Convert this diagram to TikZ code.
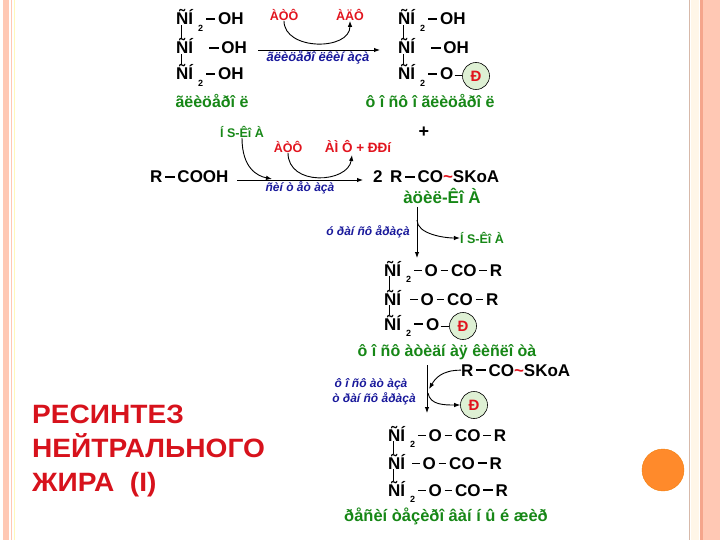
\documentclass[tikz,border=0pt]{standalone}
\usepackage{fontspec}
\setmainfont{Liberation Sans}
\newfontfamily\titlefont[FakeStretch=1.06]{Liberation Sans}
\usetikzlibrary{arrows.meta,positioning}
\definecolor{lblgreen}{RGB}{22,135,22}
\definecolor{enzblue}{RGB}{25,25,155}
\definecolor{cofred}{RGB}{225,20,30}
\definecolor{titlered}{RGB}{215,18,28}
\definecolor{phosfill}{RGB}{222,240,212}
\definecolor{stripe}{RGB}{255,200,180}
\definecolor{stripedark}{RGB}{245,165,140}
\definecolor{cream}{RGB}{255,246,232}
\definecolor{tanline}{RGB}{215,185,170}
\definecolor{dotorange}{RGB}{255,138,43}
\newcommand{\bd}{\rule[0.3em]{0.55em}{1.5pt}}
\newcommand{\tb}{\rule[0.32em]{0.45em}{0.9pt}}
\newcommand{\two}{\raisebox{-0.4em}{\fontsize{9}{9}\selectfont 2}}
\tikzset{
	ch/.style={font=\fontsize{17}{17}\selectfont\bfseries,inner sep=0pt,anchor=base west},
	lbl/.style={font=\fontsize{16}{16}\selectfont\bfseries,text=lblgreen,inner sep=0pt},
	enz/.style={font=\fontsize{12}{12}\selectfont\bfseries\itshape,text=enzblue,inner sep=0pt},
	cof/.style={font=\fontsize{12.5}{12.5}\selectfont\bfseries,text=cofred,inner sep=0pt},
	phos/.style={circle,draw,line width=0.6pt,fill=phosfill,minimum size=27pt,inner sep=0pt,font=\fontsize{15}{15}\selectfont\bfseries,text=cofred},
	rx/.style={-{Latex[length=6pt,width=4.5pt]},line width=0.9pt},
	bond/.style={line width=1pt},
	title/.style={font=\titlefont\fontsize{26.5}{26.5}\selectfont\bfseries,text=titlered,inner sep=0pt,anchor=base west}
}
\begin{document}
\begin{tikzpicture}[x=1pt,y=-1pt]
\useasboundingbox (0,0) rectangle (720,540);
% slide border
\fill[stripe] (3,0) rectangle (9,540);
\draw[stripe,line width=0.8pt] (11.5,0) -- (11.5,540);
\draw[cream!80!yellow,line width=0.8pt] (14,0) -- (14,540);
\draw[tanline,line width=1pt] (689.5,0) -- (689.5,540);
\fill[cream] (691,0) rectangle (699,540);
\fill[stripedark] (700,0) rectangle (702.5,540);
\fill[stripe] (702.5,0) rectangle (720,540);
\filldraw[fill=dotorange,draw=orange!80!brown] (663,470) circle[radius=21];

% glycerol
\node[ch] (g1) at (176,25) {ÑÍ};
\node[ch] (g1r) at (198,25) {\two\,\bd\,OH};
\node[ch] (g2) at (176,54) {ÑÍ};
\node[ch] (g2r) at (209,54) {\bd\,OH};
\node[ch] (g3) at (176,80) {ÑÍ};
\node[ch] (g3r) at (198,80) {\two\,\bd\,OH};
\node[lbl] (glyc) at (212,101) {ãëèöåðî ë};

% phosphoglycerol
\node[ch] (f1) at (398,25) {ÑÍ};
\node[ch] (f1r) at (420,25) {\two\,\bd\,OH};
\node[ch] (f2) at (398,54) {ÑÍ};
\node[ch] (f2r) at (431,54) {\bd\,OH};
\node[ch] (f3) at (398,80) {ÑÍ};
\node[ch] (f3r) at (420,80) {\two\,\bd\,O};
\node[phos] (pc1) at (476,76) {Ð};
\draw[bond] ([xshift=1pt]f3r.east |- pc1) -- (pc1.west);
\node[lbl] (pglyc) at (430,101) {ô î ñô î ãëèöåðî ë};

% glycerol kinase
\coordinate (r1a) at (258,50);
\coordinate (r1b) at (380,50);
\draw[rx] (r1a) -- (r1b);
\node[enz,font=\fontsize{13}{13}\selectfont\bfseries\itshape] (kin) at (318,58) {ãëèöåðî ëêèí àçà};
\node[cof] (atp1) at (284,15) {ÀÒÔ};
\node[cof] (adp1) at (350,15) {ÀÄÔ};
\draw[rx] (atp1.south) .. controls +(0,30) and +(0,30) .. (adp1.south);

% acyl-CoA synthetase
\node[lbl,font=\fontsize{12.5}{12.5}\selectfont\bfseries] (hs1) at (242,132) {Í S-Êî À};
\node[cof] (atp2) at (288,147) {ÀÒÔ};
\node[cof,font=\fontsize{13.5}{13.5}\selectfont\bfseries] (amp) at (358,147) {ÀÌ Ô + ÐÐí};
\node[font=\fontsize{18}{18}\selectfont\bfseries] (plus) at (424,132) {+};
\node[ch] (acid) at (150,183) {R\,\bd\,COOH};
\coordinate (r2a) at (237,180);
\coordinate (r2b) at (363,180);
\coordinate (m1) at (272,179);
\coordinate (m2) at (352,155);
\draw[rx] (r2a) -- (r2b);
\draw[rx] (hs1.south) .. controls +(0,30) and +(-15,-3) .. (m1);
\draw[rx] (atp2.south) .. controls +(0,34) and +(-4,28) .. (m2);
\node[enz] (synth) at (300,188) {ñèí ò åò àçà};
\node[ch] (acyl) at (373,183) {2\, R\,\bd\,CO{\color{cofred}\textasciitilde}SKoA};
\node[lbl,font=\fontsize{17}{17}\selectfont\bfseries] (acyllbl) at (442,196) {àöèë-Êî À};

% transferase 1
\coordinate (v1a) at (417,207);
\coordinate (v1b) at (417,258);
\coordinate (v1m) at (417,220);
\draw[rx] (v1a) -- (v1b);
\node[enz] (trans1) at (368,232) {ó ðàí ñô åðàçà};
\node[lbl,font=\fontsize{12.5}{12.5}\selectfont\bfseries] (hs2) at (482,238) {Í S-Êî À};
\draw[rx] (v1m) .. controls +(0,14) and +(-16,0) .. (hs2.west);

% phosphatidic acid
\node[ch] (a1) at (384,276) {ÑÍ};
\node[ch] (a1r) at (406,276) {\two\,\tb\,O\,\tb\,CO\,\tb\,R};
\node[ch] (a2) at (384,305) {ÑÍ};
\node[ch] (a2r) at (410,305) {\tb\,O\,\tb\,CO\,\tb\,R};
\node[ch] (a3) at (384,330) {ÑÍ};
\node[ch] (a3r) at (406,330) {\two\,\bd\,O};
\node[phos] (pc2) at (463,326) {Ð};
\draw[bond] ([xshift=1pt]a3r.east |- pc2) -- (pc2.west);
\node[lbl] (pacid) at (447,352) {ô î ñô àòèäí àÿ êèñëî òà};

% phosphatase / transferase
\node[ch] (rco) at (461,376) {R\,\bd\,CO{\color{cofred}\textasciitilde}SKoA};
\coordinate (v2a) at (427,365);
\coordinate (v2b) at (427,413);
\coordinate (v2m) at (429,389);
\coordinate (v2n) at (428,393);
\draw[rx] (v2a) -- (v2b);
\draw[rx] (rco.west) .. controls +(-20,0) and +(6,-10) .. (v2m);
\node[enz] (phase) at (371,384) {ô î ñô àò àçà};
\node[enz] (trans2) at (374,399) {ò ðàí ñô åðàçà};
\node[phos] (pc3) at (474,405) {Ð};
\draw[rx] (v2n) .. controls +(2,12) and +(-16,0) .. (pc3.west);

% neutral fat
\node[ch] (t1) at (388,441) {ÑÍ};
\node[ch] (t1r) at (410,441) {\two\,\tb\,O\,\tb\,CO\,\tb\,R};
\node[ch] (t2) at (388,469) {ÑÍ};
\node[ch] (t2r) at (412,469) {\tb\,O\,\tb\,CO\,\bd\,R};
\node[ch] (t3) at (388,496) {ÑÍ};
\node[ch] (t3r) at (410,496) {\two\,\tb\,O\,\tb\,CO\,\bd\,R};
\node[lbl,font=\fontsize{16.5}{16.5}\selectfont\bfseries] (fat) at (446,516) {ðåñèí òåçèðî âàí í û é æèð};

% C-C bonds
\foreach \a/\b in {g1/g2,g2/g3,f1/f2,f2/f3,a1/a2,a2/a3,t1/t2,t2/t3}
	\draw[bond] ([xshift=5pt]\a.south west) -- ([xshift=5pt]\b.north west);

% title
\node[title] (tt1) at (32,423) {РЕСИНТЕЗ};
\node[title] (tt2) at (32,457) {НЕЙТРАЛЬНОГО};
\node[title] (tt3) at (32,491) {ЖИРА\ \ (I)};
\end{tikzpicture}
\end{document}
